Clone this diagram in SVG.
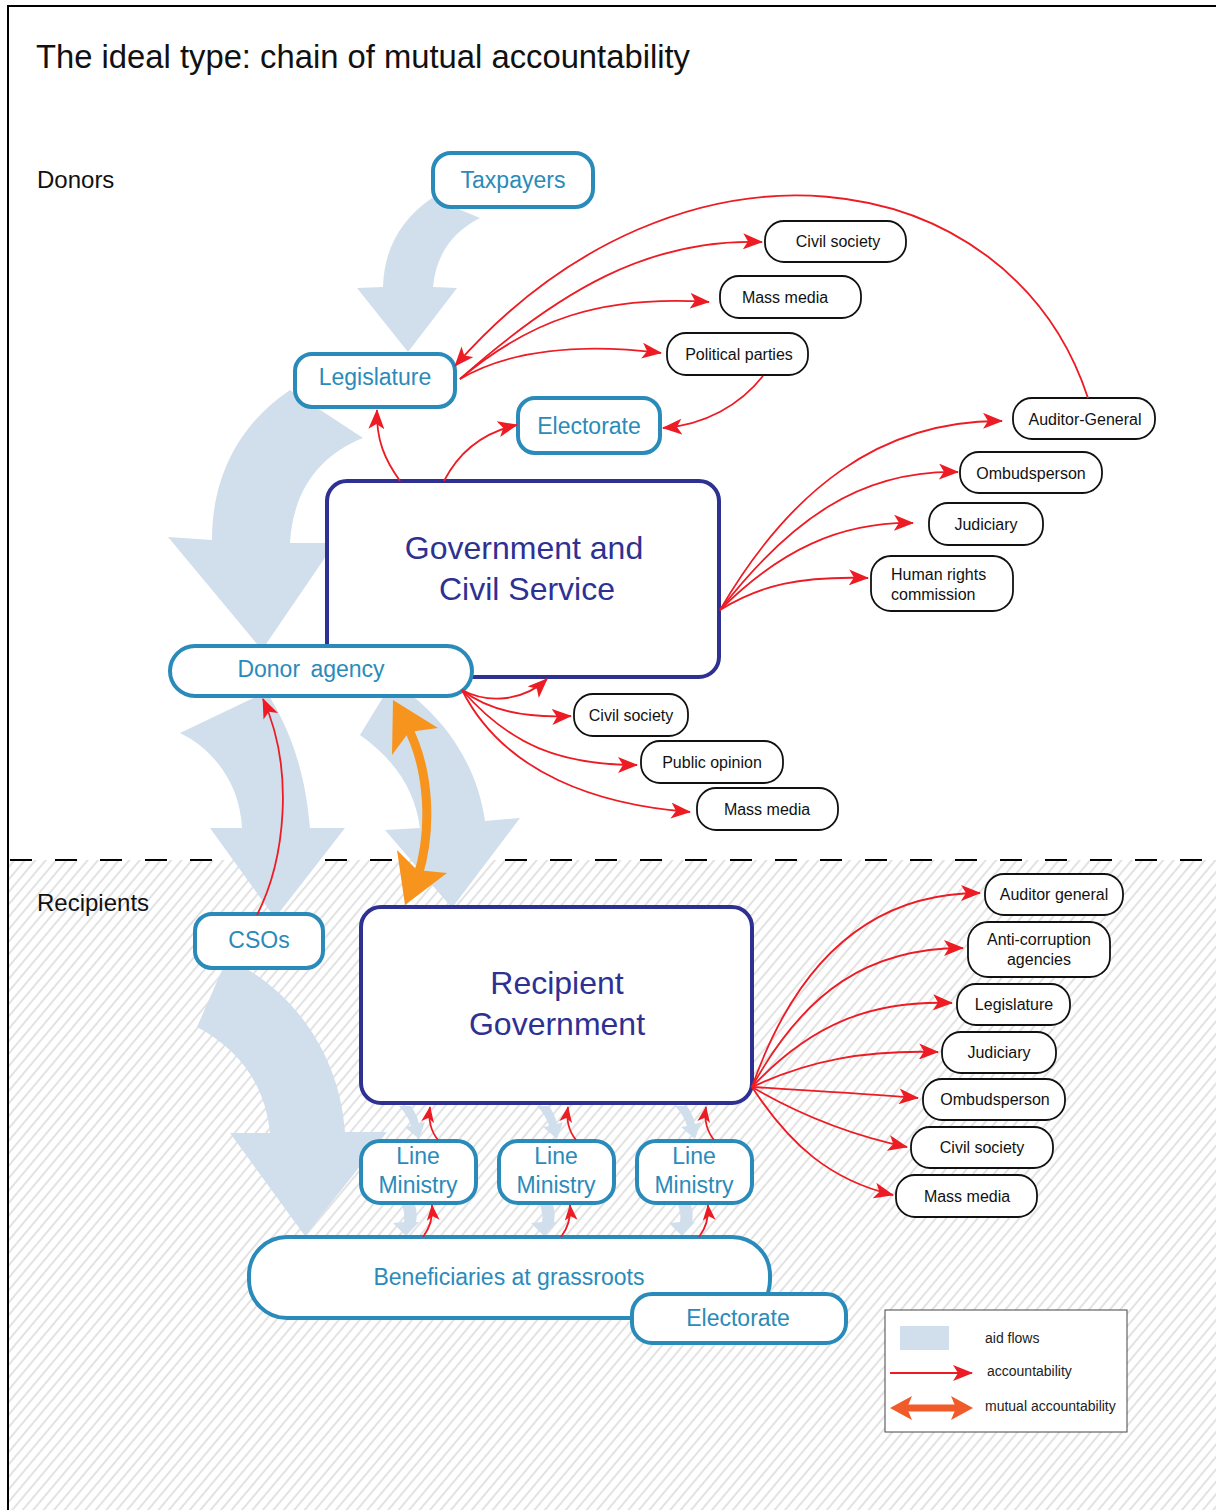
<svg xmlns="http://www.w3.org/2000/svg" xmlns:xlink="http://www.w3.org/1999/xlink" width="1216" height="1510" viewBox="0 0 1216 1510">
<style>
text{font-family:"Liberation Sans",Arial,sans-serif}
.bn{fill:#fff;stroke:#2a8bba;stroke-width:4}
.bt{fill:#2a8bba;font-size:23px;text-anchor:middle}
.gn{fill:#fff;stroke:#2e3192;stroke-width:4}
.gt{fill:#2e3192;font-size:32px;text-anchor:middle}
.kn{fill:#fff;stroke:#111;stroke-width:1.8}
.kt{fill:#111;font-size:16px;text-anchor:middle}
.kl{fill:#111;font-size:16px;text-anchor:start}
.aid{fill:#d1dfec}
.acc{fill:none;stroke:#ed1c24;stroke-width:1.8;marker-end:url(#ah)}
.accs{fill:none;stroke:#ed1c24;stroke-width:1.8;marker-end:url(#ahs)}
.lab{fill:#111;font-size:24px}
.lg{fill:#222;font-size:14px}
</style>
<defs>
<pattern id="hatch" width="8" height="8" patternUnits="userSpaceOnUse" patternTransform="rotate(40)">
<line x1="4" y1="0" x2="4" y2="8" stroke="#c6c6c6" stroke-width="1"/>
</pattern>
<marker id="ah" viewBox="0 0 20 16" refX="19" refY="8" markerWidth="20" markerHeight="16" markerUnits="userSpaceOnUse" orient="auto">
<path d="M0,0 L20,8 L0,16 L5,8 Z" fill="#ed1c24"/>
</marker>
<marker id="ahs" viewBox="0 0 20 16" refX="19" refY="8" markerWidth="16" markerHeight="13" markerUnits="userSpaceOnUse" orient="auto">
<path d="M0,0 L20,8 L0,16 L5,8 Z" fill="#ed1c24"/>
</marker>
<path id="sa-up" d="M0,0 L12,0 C16,6 19,12 20,18 L26,16 L20,33 L6,21 L12,20 C10,13 6,6 0,0 Z"/>
<path id="sa-dn" d="M0,0 L13,0 C15,6 15,11 14,17 L17,17 L4,31 L-9,18 L2,17 C3,11 2,6 0,0 Z"/>
</defs>

<rect x="0" y="0" width="1216" height="1510" fill="#fff"/>
<rect x="8" y="860" width="1208" height="650" fill="url(#hatch)"/>
<path d="M8,1510 L8,6 L1216,6" fill="none" stroke="#000" stroke-width="2"/>
<line x1="10" y1="860" x2="1216" y2="860" stroke="#000" stroke-width="2" stroke-dasharray="22 23"/>

<text x="36" y="68" font-size="33" fill="#111" textLength="654" lengthAdjust="spacingAndGlyphs">The ideal type: chain of mutual accountability</text>
<text class="lab" x="37" y="188">Donors</text>
<text class="lab" x="37" y="911">Recipients</text>

<g id="aid-flows">
<path class="aid" d="M432,198 C400,220 384,250 383,287 L357,288 L408,352 L457,288 L433,287 C436,255 452,232 480,218 Z"/>
<path class="aid" d="M290,390 C245,420 212,470 212,540 L168,537 L262,650 L335,543 L290,543 C293,490 320,455 363,438 Z"/>
<path class="aid" d="M262,694 L180,733 C215,750 240,785 242,828 L210,828 L275,918 L345,828 L310,828 C305,770 290,730 268,694 Z"/>
<path class="aid" d="M385,694 L360,735 C395,760 415,790 420,828 L385,830 L452,908 L520,818 L485,821 C478,770 450,725 410,694 Z"/>
<path class="aid" d="M223,968 L197,1027 C240,1050 265,1085 270,1133 L230,1133 L305,1236 L387,1132 L345,1132 C340,1060 300,1000 245,968 Z"/>
<use href="#sa-up" xlink:href="#sa-up" class="aid" x="399" y="1106"/>
<use href="#sa-up" xlink:href="#sa-up" class="aid" x="537" y="1106"/>
<use href="#sa-up" xlink:href="#sa-up" class="aid" x="675" y="1106"/>
<use href="#sa-dn" xlink:href="#sa-dn" class="aid" x="402" y="1205"/>
<use href="#sa-dn" xlink:href="#sa-dn" class="aid" x="540" y="1205"/>
<use href="#sa-dn" xlink:href="#sa-dn" class="aid" x="678" y="1205"/>
</g>

<g id="gov-civil-service"><rect class="gn" x="327" y="481" width="392" height="196" rx="20"/>
<text class="gt" x="524" y="559">Government and</text><text class="gt" x="527" y="600">Civil Service</text></g>
<g id="recipient-government"><rect class="gn" x="361" y="907" width="391" height="196" rx="20"/>
<text class="gt" x="557" y="994">Recipient</text><text class="gt" x="557" y="1035">Government</text></g>

<g id="taxpayers"><rect class="bn" x="433" y="153" width="160" height="54" rx="18"/><text class="bt" x="513" y="188">Taxpayers</text></g>
<g id="legislature"><rect class="bn" x="295" y="354" width="160" height="53" rx="17"/><text class="bt" x="375" y="385">Legislature</text></g>
<g id="electorate-donor"><rect class="bn" x="518" y="398" width="142" height="55" rx="17"/><text class="bt" x="589" y="434">Electorate</text></g>
<g id="donor-agency"><rect class="bn" x="170" y="646" width="302" height="50" rx="25"/><text class="bt" x="311" y="677" word-spacing="4">Donor agency</text></g>
<g id="csos"><rect class="bn" x="195" y="914" width="128" height="54" rx="17"/><text class="bt" x="259" y="948">CSOs</text></g>
<g id="line-ministry-1"><rect class="bn" x="361" y="1141" width="115" height="62" rx="19"/><text class="bt" x="418" y="1164">Line</text><text class="bt" x="418" y="1193">Ministry</text></g>
<g id="line-ministry-2"><rect class="bn" x="499" y="1141" width="115" height="62" rx="19"/><text class="bt" x="556" y="1164">Line</text><text class="bt" x="556" y="1193">Ministry</text></g>
<g id="line-ministry-3"><rect class="bn" x="637" y="1141" width="115" height="62" rx="19"/><text class="bt" x="694" y="1164">Line</text><text class="bt" x="694" y="1193">Ministry</text></g>
<g id="beneficiaries"><rect class="bn" x="249" y="1237" width="521" height="81" rx="38"/><text class="bt" x="509" y="1285">Beneficiaries at grassroots</text></g>
<g id="electorate-recipient"><rect class="bn" x="632" y="1294" width="214" height="49" rx="20"/><text class="bt" x="738" y="1326">Electorate</text></g>

<g id="civil-society-top"><rect class="kn" x="765" y="221" width="141" height="41" rx="19"/><text class="kt" x="838" y="247">Civil society</text></g>
<g id="mass-media-top"><rect class="kn" x="720" y="276" width="141" height="42" rx="19"/><text class="kt" x="785" y="303">Mass media</text></g>
<g id="political-parties"><rect class="kn" x="667" y="333" width="141" height="42" rx="19"/><text class="kt" x="739" y="360">Political parties</text></g>
<g id="auditor-general-top"><rect class="kn" x="1013" y="398" width="142" height="41" rx="19"/><text class="kt" x="1085" y="425">Auditor-General</text></g>
<g id="ombudsperson-top"><rect class="kn" x="960" y="452" width="142" height="41" rx="19"/><text class="kt" x="1031" y="479">Ombudsperson</text></g>
<g id="judiciary-top"><rect class="kn" x="929" y="503" width="114" height="42" rx="19"/><text class="kt" x="986" y="530">Judiciary</text></g>
<g id="human-rights"><rect class="kn" x="871" y="556" width="142" height="55" rx="20"/><text class="kl" x="891" y="580">Human rights</text><text class="kl" x="891" y="600">commission</text></g>
<g id="civil-society-mid"><rect class="kn" x="574" y="694" width="114" height="42" rx="19"/><text class="kt" x="631" y="721">Civil society</text></g>
<g id="public-opinion"><rect class="kn" x="641" y="741" width="142" height="42" rx="19"/><text class="kt" x="712" y="768">Public opinion</text></g>
<g id="mass-media-mid"><rect class="kn" x="697" y="788" width="141" height="42" rx="19"/><text class="kt" x="767" y="815">Mass media</text></g>
<g id="auditor-general-bottom"><rect class="kn" x="985" y="874" width="138" height="41" rx="19"/><text class="kt" x="1054" y="900">Auditor general</text></g>
<g id="anti-corruption"><rect class="kn" x="968" y="922" width="142" height="55" rx="20"/><text class="kt" x="1039" y="945">Anti-corruption</text><text class="kt" x="1039" y="965">agencies</text></g>
<g id="legislature-bottom"><rect class="kn" x="957" y="984" width="113" height="41" rx="19"/><text class="kt" x="1014" y="1010">Legislature</text></g>
<g id="judiciary-bottom"><rect class="kn" x="942" y="1032" width="114" height="41" rx="19"/><text class="kt" x="999" y="1058">Judiciary</text></g>
<g id="ombudsperson-bottom"><rect class="kn" x="923" y="1079" width="142" height="41" rx="19"/><text class="kt" x="995" y="1105">Ombudsperson</text></g>
<g id="civil-society-bottom"><rect class="kn" x="911" y="1127" width="142" height="41" rx="19"/><text class="kt" x="982" y="1153">Civil society</text></g>
<g id="mass-media-bottom"><rect class="kn" x="896" y="1175" width="141" height="42" rx="19"/><text class="kt" x="967" y="1202">Mass media</text></g>

<g id="connectors">
<path class="acc" d="M1088,398 C1010,160 680,110 455,366"/>
<path class="acc" d="M460,379 C560,290 650,238 762,242"/>
<path class="acc" d="M460,379 C530,320 600,295 709,302"/>
<path class="acc" d="M460,379 C510,350 580,343 661,353"/>
<path class="acc" d="M763,376 C740,405 705,425 663,428"/>
<path class="acc" d="M400,481 C385,460 376,440 377,410"/>
<path class="acc" d="M444,481 C460,450 485,432 517,425"/>
<path class="acc" d="M720,610 C790,490 880,420 1002,421"/>
<path class="acc" d="M720,610 C790,520 860,470 958,472"/>
<path class="acc" d="M720,610 C780,550 840,522 913,523"/>
<path class="acc" d="M720,610 C760,585 800,576 868,578"/>
<path class="acc" d="M462,690 C490,705 525,700 547,679"/>
<path class="acc" d="M462,690 C490,712 530,718 571,716"/>
<path class="acc" d="M462,690 C510,745 560,765 637,765"/>
<path class="acc" d="M462,690 C505,775 600,805 690,812"/>
<path class="acc" d="M257,915 C285,860 295,770 263,699"/>
<path class="acc" d="M752,1087 C800,950 880,893 980,893"/>
<path class="acc" d="M752,1087 C805,990 870,948 963,948"/>
<path class="acc" d="M752,1087 C810,1025 870,1000 952,1003"/>
<path class="acc" d="M752,1087 C810,1060 865,1050 938,1052"/>
<path class="acc" d="M752,1087 C800,1090 860,1093 918,1098"/>
<path class="acc" d="M752,1087 C800,1115 850,1135 907,1147"/>
<path class="acc" d="M752,1087 C790,1145 830,1180 893,1195"/>
<path class="accs" d="M438,1140 C430,1130 428,1120 430,1107"/>
<path class="accs" d="M576,1140 C568,1130 566,1120 568,1107"/>
<path class="accs" d="M714,1140 C706,1130 704,1120 706,1107"/>
<path class="accs" d="M423,1237 C430,1228 433,1218 432,1205"/>
<path class="accs" d="M561,1237 C568,1228 571,1218 570,1205"/>
<path class="accs" d="M699,1237 C706,1228 709,1218 708,1205"/>
<g id="mutual-accountability">
<path d="M407,726 C430,770 432,830 418,876" fill="none" stroke="#f7941d" stroke-width="9"/>
<path d="M393,700 L438,728 L409,732 L392,755 Z" fill="#f7941d"/>
<path d="M405,905 L397,850 L417,870 L447,873 Z" fill="#f7941d"/>
</g>
</g>

<g id="legend">
<rect x="885" y="1310" width="242" height="122" fill="#fff" stroke="#444" stroke-width="1"/>
<rect x="900" y="1326" width="49" height="24" class="aid"/>
<text class="lg" x="985" y="1343">aid flows</text>
<line x1="890" y1="1373" x2="972" y2="1373" stroke="#ed1c24" stroke-width="1.8" marker-end="url(#ah)"/>
<text class="lg" x="987" y="1376">accountability</text>
<line x1="905" y1="1408" x2="958" y2="1408" stroke="#f15a29" stroke-width="7"/>
<path d="M890,1408 L912,1396 L907,1408 L912,1420 Z M973,1408 L951,1396 L956,1408 L951,1420 Z" fill="#f15a29"/>
<text class="lg" x="985" y="1411">mutual accountability</text>
</g>
</svg>
